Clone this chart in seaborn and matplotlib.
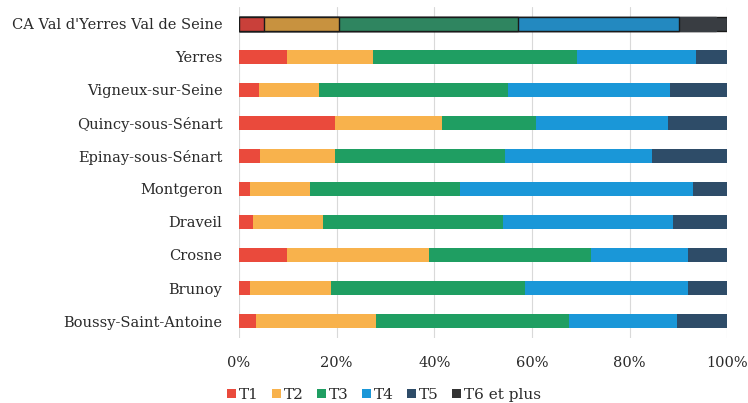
import matplotlib
matplotlib.use("Agg")
import matplotlib.pyplot as plt
from matplotlib.patches import Patch
import numpy as np
import pandas as pd
import seaborn as sns

communes = [
    "CA Val d'Yerres Val de Seine",
    "Yerres",
    "Vigneux-sur-Seine",
    "Quincy-sous-Sénart",
    "Epinay-sous-Sénart",
    "Montgeron",
    "Draveil",
    "Crosne",
    "Brunoy",
    "Boussy-Saint-Antoine",
]
series = ["T1", "T2", "T3", "T4", "T5", "T6 et plus"]

# share of dwellings by size (%)
t1 = [5.1, 9.8, 4.0, 19.6, 4.4, 2.3, 2.9, 9.9, 2.3, 3.4]
t2 = [15.3, 17.7, 12.3, 21.9, 15.3, 12.2, 14.4, 29.0, 16.5, 24.6]
t3 = [36.7, 41.7, 38.8, 19.3, 34.7, 30.8, 36.8, 33.2, 39.7, 39.6]
t4 = [32.9, 24.4, 33.2, 27.0, 30.2, 47.6, 34.8, 19.8, 33.5, 22.1]
t5 = [7.6, 6.4, 11.7, 12.2, 15.4, 7.1, 11.1, 8.1, 8.0, 10.3]
t6 = [2.4, 0.0, 0.0, 0.0, 0.0, 0.0, 0.0, 0.0, 0.0, 0.0]

tick_values = [0, 20, 40, 60, 80, 100]
tick_labels = ["0%", "20%", "40%", "60%", "80%", "100%"]

colors = ["#ea4a3c", "#f8b24c", "#1f9e62", "#1a97d8", "#2e4c68", "#333333"]
# the aggregate (CA) row is shown in deeper tones with a dark outline
ca_colors = ["#c9403a", "#c8923f", "#2f8560", "#2389c0", "#393d42", "#393d42"]

values = np.array([t1, t2, t3, t4, t5, t6])
cum = values.cumsum(axis=0)
df = pd.DataFrame(
    [
        {"commune": c, "series": s, "cum": cum[i, j]}
        for i, s in enumerate(series)
        for j, c in enumerate(communes)
    ]
)

sns.set_theme(style="white")
plt.rcParams["font.family"] = ["DejaVu Serif"]

fig = plt.figure(figsize=(7.48, 4.03), dpi=100)
ax = fig.add_axes([0.3195, 0.1625, 0.653, 0.819])

# stacked bars: draw cumulative totals from the last series back to the first
for i in reversed(range(len(series))):
    sub = df[df["series"] == series[i]]
    sns.barplot(
        data=sub, x="cum", y="commune", order=communes, orient="h",
        color=colors[i], saturation=1, width=0.42, ax=ax, linewidth=0,
    )
    ca_bar = ax.containers[-1][0]
    ca_bar.set_facecolor(ca_colors[i])
    ca_bar.set_edgecolor("#1a1a1a" if i != 4 else ca_colors[i])
    ca_bar.set_linewidth(1.0)

ax.set_xlim(0, 100)
ax.set_ylim(len(communes) - 0.5, -0.5)
ax.set_xticks(tick_values)
ax.set_xticklabels(tick_labels)
ax.set_xlabel("")
ax.set_ylabel("")
ax.xaxis.grid(True, color="#d9d9d9", linewidth=0.8)
ax.set_axisbelow(True)
for sp in ax.spines.values():
    sp.set_visible(False)
ax.tick_params(axis="both", length=0, labelsize=10.5, labelcolor="#2a2a2a")
ax.tick_params(axis="y", pad=12)
ax.tick_params(axis="x", pad=13)

handles = [Patch(facecolor=c, edgecolor="none") for c in colors]
fig.legend(
    handles, series, loc="center", bbox_to_anchor=(384 / 748, 1 - 395 / 403),
    ncol=6, frameon=False, fontsize=11, handlelength=0.6, handleheight=0.6,
    handletextpad=0.2, columnspacing=0.85, labelcolor="#2a2a2a",
)

fig.savefig("out.png", dpi=100)
